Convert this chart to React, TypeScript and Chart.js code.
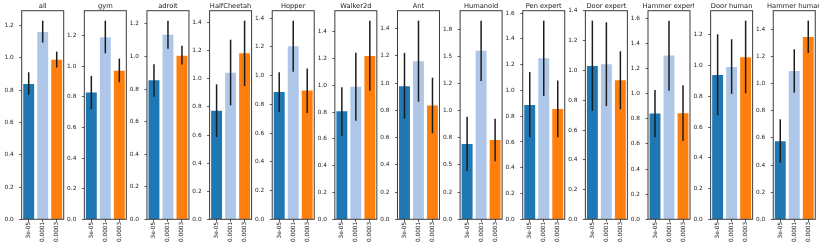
import React, { useEffect, useRef } from "react";
import { Chart, registerables } from "chart.js";
Chart.register(...registerables);

const panelTitles = [
  "all", "gym", "adroit", "HalfCheetah", "Hopper", "Walker2d", "Ant",
  "Humanoid", "Pen expert", "Door expert", "Hammer expert", "Door human", "Hammer human",
];
const lrLabels = ["3e-05", "0.0001", "0.0003"];
const barColors = ["#1f77b4", "#aec7e8", "#ff7f0e"];

// learning rate 3e-05
const mean3e05 = [0.839, 0.828, 0.854, 0.773, 0.886, 0.807, 0.977, 0.693, 0.888, 1.030, 0.841, 0.939, 0.575];
const low3e05 = [0.772, 0.719, 0.753, 0.586, 0.747, 0.625, 0.739, 0.445, 0.637, 0.728, 0.653, 0.677, 0.417];
const high3e05 = [0.911, 0.937, 0.952, 0.961, 1.024, 0.987, 1.222, 0.945, 1.144, 1.335, 1.029, 1.204, 0.737];
// learning rate 0.0001
const mean1e4 = [1.161, 1.189, 1.134, 1.044, 1.205, 0.991, 1.161, 1.552, 1.250, 1.042, 1.303, 0.992, 1.093];
const low1e4 = [1.095, 1.085, 1.048, 0.812, 1.028, 0.737, 0.864, 1.273, 0.958, 0.761, 1.024, 0.816, 0.933];
const high1e4 = [1.231, 1.298, 1.220, 1.279, 1.383, 1.245, 1.459, 1.829, 1.542, 1.324, 1.581, 1.172, 1.253];
// learning rate 0.0003
const mean3e4 = [0.988, 0.971, 1.005, 1.182, 0.896, 1.220, 0.835, 0.730, 0.857, 0.934, 0.844, 1.055, 1.343];
const low3e4 = [0.940, 0.895, 0.950, 0.949, 0.740, 0.961, 0.632, 0.534, 0.637, 0.739, 0.623, 0.820, 1.226];
const high3e4 = [1.039, 1.050, 1.065, 1.415, 1.049, 1.484, 1.040, 0.926, 1.077, 1.129, 1.067, 1.293, 1.464];

const tickSteps = [0.2, 0.2, 0.2, 0.2, 0.2, 0.2, 0.2, 0.25, 0.2, 0.2, 0.2, 0.2, 0.2];

// layout
const FIRST_LEFT = 21.7;
const PANEL_STEP = 62.63;
const FRAME_W = 42;
const AXIS_W = 30;
const TOP = 10.7;
const XAXIS_H = 25.7;
const H = 245;
const CW = AXIS_W + FRAME_W + 4;
const FONT = "DejaVu Sans";

function fmtHalfEven(v: number): string {
  const x = v * 10;
  const f = Math.floor(x + 1e-9);
  let n: number;
  if (Math.abs(x - f - 0.5) < 1e-6) n = f % 2 === 0 ? f : f + 1;
  else n = Math.round(x);
  return (n / 10).toFixed(1);
}

const errorBarsPlugin = {
  id: "errbars",
  afterDatasetsDraw(chart: any) {
    const meta = chart.getDatasetMeta(0);
    const ys = chart.scales.y;
    const lows: number[] = chart.options.plugins.errbars.low;
    const highs: number[] = chart.options.plugins.errbars.high;
    const ctx = chart.ctx;
    ctx.save();
    ctx.strokeStyle = "#1c1c1c";
    ctx.lineWidth = 1.5;
    meta.data.forEach((bar: any, i: number) => {
      ctx.beginPath();
      ctx.moveTo(bar.x, ys.getPixelForValue(lows[i]));
      ctx.lineTo(bar.x, ys.getPixelForValue(highs[i]));
      ctx.stroke();
    });
    ctx.restore();
  },
};

const framePlugin = {
  id: "frame",
  afterDraw(chart: any) {
    const { left, top, right, bottom } = chart.chartArea;
    const ctx = chart.ctx;
    ctx.save();
    ctx.strokeStyle = "#3a3a3a";
    ctx.lineWidth = 1;
    ctx.strokeRect(left, top, right - left, bottom - top);
    ctx.fillStyle = "#1a1a1a";
    ctx.font = `6.7px "${FONT}"`;
    ctx.textAlign = "center";
    ctx.textBaseline = "alphabetic";
    ctx.fillText(chart.options.plugins.frame.title, (left + right) / 2, top - 3.2);
    ctx.restore();
  },
};

function panelLeft(p: number) {
  return FIRST_LEFT + p * PANEL_STEP - AXIS_W;
}

export default function App() {
  const refs = useRef<(HTMLCanvasElement | null)[]>([]);

  useEffect(() => {
    document.body.style.margin = "0";
    const charts = panelTitles.map((title, p) => {
      const canvas = refs.current[p]!;
      const exact = panelLeft(p);
      const padL = exact - Math.floor(exact);
      const means = [mean3e05[p], mean1e4[p], mean3e4[p]];
      const lows = [low3e05[p], low1e4[p], low3e4[p]];
      const highs = [high3e05[p], high1e4[p], high3e4[p]];
      const ymax = Math.max(...highs) * 1.05;
      const step = tickSteps[p];
      const tickVals: number[] = [];
      for (let k = 0; k * step <= ymax + 1e-9; k++) tickVals.push(+(k * step).toFixed(4));
      const tickFont = { family: FONT, size: 5.8 };
      return new Chart(canvas, {
        type: "bar",
        data: {
          labels: lrLabels,
          datasets: [
            {
              data: means,
              backgroundColor: barColors,
              borderWidth: 0,
              barPercentage: 0.78,
              categoryPercentage: 1,
            },
          ],
        },
        options: {
          animation: false,
          responsive: false,
          devicePixelRatio: 1,
          layout: { padding: { left: padL, right: CW - AXIS_W - FRAME_W - padL, top: TOP, bottom: 0 } },
          plugins: {
            legend: { display: false },
            tooltip: { enabled: false },
            title: { display: false },
            errbars: { low: lows, high: highs },
            frame: { title },
          } as any,
          scales: {
            x: {
              grid: {
                display: true,
                offset: false,
                drawOnChartArea: false,
                drawTicks: true,
                tickLength: 2.5,
                color: "#333333",
                lineWidth: 0.8,
              },
              border: { display: false },
              ticks: {
                font: tickFont,
                color: "#1a1a1a",
                minRotation: 90,
                maxRotation: 90,
                autoSkip: false,
                padding: 0,
              },
              afterFit: (s: any) => {
                s.height = XAXIS_H;
              },
            },
            y: {
              min: 0,
              max: ymax,
              grid: {
                display: true,
                drawOnChartArea: false,
                drawTicks: true,
                tickLength: 2.5,
                color: "#333333",
                lineWidth: 0.8,
              },
              border: { display: false },
              ticks: {
                font: tickFont,
                color: "#1a1a1a",
                padding: 5.5,
                callback: (v: any) => fmtHalfEven(Number(v)),
              },
              afterBuildTicks: (s: any) => {
                s.ticks = tickVals.map((v) => ({ value: v }));
              },
              afterFit: (s: any) => {
                s.width = AXIS_W;
              },
            },
          },
        } as any,
        plugins: [errorBarsPlugin, framePlugin],
      });
    });
    return () => charts.forEach((c) => c.destroy());
  }, []);

  return (
    <div style={{ position: "relative", width: 830, height: H }}>
      {panelTitles.map((t, p) => (
        <canvas
          key={t}
          ref={(el) => {
            refs.current[p] = el;
          }}
          width={CW}
          height={H}
          style={{
            position: "absolute",
            left: Math.floor(panelLeft(p)),
            top: 0,
            width: CW,
            height: H,
          }}
        />
      ))}
    </div>
  );
}
